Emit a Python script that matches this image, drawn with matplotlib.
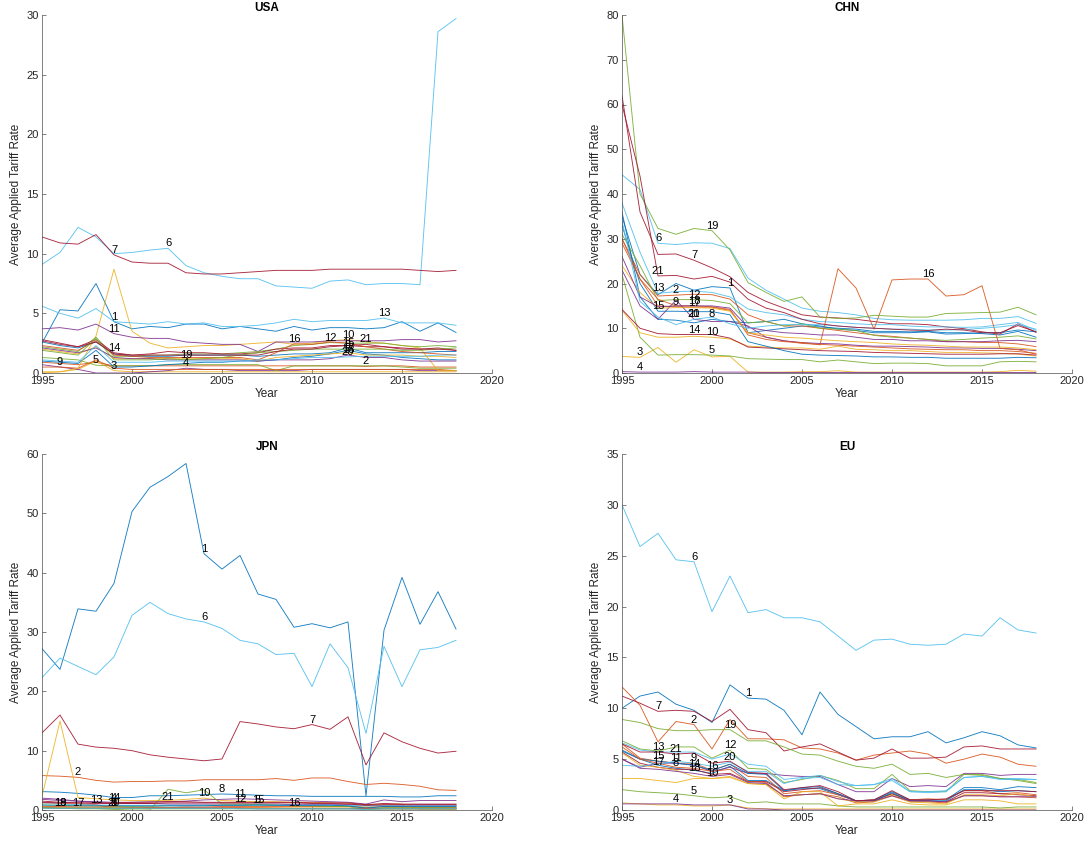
import matplotlib
matplotlib.use("Agg")
import matplotlib.pyplot as plt

plt.rcParams['font.family'] = ['Liberation Sans', 'DejaVu Sans']

years = list(range(1995, 2019))
panel_titles = ["USA", "CHN", "JPN", "EU"]
y_limits = {"USA": 30, "CHN": 80, "JPN": 60, "EU": 35}
y_steps = {"USA": 5, "CHN": 10, "JPN": 10, "EU": 5}
x_ticks = [1995, 2000, 2005, 2010, 2015, 2020]

usa_series = [
    [2.5,5.3,5.2,7.5,4.3,3.7,3.9,3.8,4.1,4.1,3.7,3.9,3.7,3.5,3.9,3.6,3.8,3.8,3.7,3.8,4.3,3.5,4.2,3.4],
    [0.9,0.8,0.7,0.9,0.6,0.6,0.6,0.6,0.6,0.6,0.6,0.6,0.6,0.6,0.6,0.6,0.6,0.6,0.55,0.6,0.6,0.5,0.5,0.5],
    [0.1,0.1,0.3,1.0,0.2,0.1,0.1,0.1,0.1,0.1,0.1,0.1,0.1,0.1,0.1,0.1,0.1,0.1,0.1,0.1,0.1,0.1,0.1,0.1],
    [0.7,0.5,0.3,0.0,0.0,0.0,0.1,0.2,0.4,0.3,0.3,0.2,0.2,0.2,0.2,0.3,0.3,0.3,0.3,0.3,0.3,0.2,0.2,0.2],
    [1.3,1.2,1.1,0.65,0.6,0.6,0.6,0.7,0.7,0.7,0.7,0.7,0.7,0.2,0.6,0.6,0.6,0.6,0.6,0.6,0.5,0.4,0.4,0.4],
    [9.1,10.1,12.2,11.4,10.0,10.1,10.3,10.45,9.0,8.4,8.1,7.9,7.9,7.3,7.2,7.1,7.7,7.8,7.4,7.5,7.5,7.4,28.6,29.7],
    [11.4,10.9,10.8,11.6,9.9,9.3,9.2,9.2,8.4,8.3,8.3,8.4,8.5,8.6,8.6,8.6,8.7,8.7,8.7,8.7,8.7,8.6,8.5,8.6],
    [1.0,0.9,0.8,1.9,0.5,0.5,0.6,0.7,0.8,0.9,0.9,1.0,1.0,1.1,1.3,1.4,1.6,1.9,1.6,1.5,1.3,1.2,1.1,1.1],
    [0.5,0.5,0.4,1.1,0.4,0.3,0.3,0.3,0.3,0.3,0.3,0.3,0.3,0.3,0.3,0.3,0.3,0.3,0.3,0.3,0.3,0.3,0.3,0.2],
    [0.0,0.1,0.4,3.1,8.7,3.5,2.5,2.1,2.2,2.3,2.3,2.4,2.5,2.6,2.4,2.5,2.7,2.8,2.6,2.5,2.3,2.1,0.2,0.2],
    [3.7,3.8,3.6,4.1,3.3,3.0,2.9,2.9,2.6,2.5,2.4,2.4,1.8,2.6,2.6,2.6,2.7,2.7,2.7,2.7,2.8,2.8,2.6,2.7],
    [2.2,2.0,1.8,3.0,1.4,1.4,1.5,1.5,1.6,1.6,1.6,1.7,1.8,2.0,2.3,2.4,2.55,2.5,2.5,2.5,2.3,2.2,2.3,2.2],
    [5.6,5.0,4.6,5.4,4.3,4.2,4.1,4.3,4.1,4.2,3.9,3.9,4.0,4.2,4.5,4.3,4.4,4.4,4.4,4.6,4.2,4.2,4.2,4.0],
    [2.8,2.5,2.2,2.8,1.7,1.5,1.6,1.8,1.7,1.7,1.6,1.6,1.7,2.0,2.1,2.1,2.3,2.3,2.2,2.2,2.0,2.0,2.1,1.9],
    [2.6,2.3,2.1,2.6,1.6,1.4,1.4,1.4,1.5,1.5,1.5,1.5,1.4,1.5,1.6,1.6,1.7,2.1,1.7,1.7,1.7,1.7,1.8,1.8],
    [2.3,2.1,1.9,2.7,1.5,1.4,1.3,1.3,1.3,1.3,1.3,1.3,1.1,1.7,2.45,2.4,2.6,2.5,2.2,2.0,1.8,1.7,1.6,1.5],
    [2.0,1.8,1.6,2.2,1.2,1.2,1.2,1.2,1.2,1.2,1.2,1.2,1.0,1.3,1.4,1.5,1.6,1.7,1.5,1.5,1.5,1.4,1.4,1.3],
    [2.1,1.9,1.7,2.1,1.3,1.2,1.2,1.1,1.1,1.1,1.1,1.1,1.0,1.1,1.1,1.1,1.2,1.5,1.3,1.3,1.1,1.0,1.0,1.0],
    [1.9,1.7,1.5,2.9,1.1,1.1,1.1,1.2,1.1,1.2,1.3,1.5,1.7,1.8,1.9,2.0,2.0,2.0,2.0,2.0,1.9,1.9,2.0,2.1],
    [1.1,1.0,0.9,2.3,0.9,0.9,0.9,1.0,1.0,1.0,1.0,1.0,1.1,1.1,1.2,1.3,1.3,1.35,1.4,1.4,1.4,1.4,1.5,1.5],
    [2.7,2.4,2.2,2.6,1.6,1.5,1.5,1.5,1.5,1.5,1.5,1.5,1.5,1.8,2.0,2.0,2.2,2.3,2.4,2.2,2.1,2.0,2.0,1.9],
]
usa_label_years = [1999,2013,1999,2003,1998,2002,1999,2012,1996,2012,1999,2011,2014,1999,2012,2009,2012,2012,2003,2012,2013]

chn_series = [
    [35.0,22.0,17.5,20.0,18.5,19.3,19.0,9.0,9.5,10.0,10.5,10.3,10.0,9.8,9.3,9.3,9.2,9.3,9.0,9.0,8.8,8.5,9.3,8.0],
    [30.0,22.0,17.2,17.4,17.6,17.5,16.5,13.0,11.5,10.5,10.5,10.0,9.5,9.0,8.5,8.2,7.8,7.5,7.0,7.0,6.8,6.8,6.5,5.9],
    [3.7,3.5,5.7,2.4,5.2,3.6,3.7,0.2,0.2,0.2,0.3,0.3,0.5,0.2,0.2,0.2,0.2,0.2,0.2,0.2,0.2,0.3,0.6,0.4],
    [0.3,0.2,0.2,0.2,0.3,0.2,0.2,0.2,0.1,0.1,0.1,0.1,0.1,0.1,0.1,0.1,0.1,0.1,0.1,0.1,0.1,0.1,0.1,0.1],
    [22.0,8.0,4.0,4.1,4.1,4.0,3.8,3.2,3.1,3.0,3.0,2.5,2.9,2.5,2.1,2.2,2.2,2.1,1.6,1.6,1.6,2.5,2.6,2.5],
    [44.3,41.0,29.0,28.7,29.1,29.0,27.8,21.2,18.5,16.5,14.5,13.8,13.5,13.0,12.2,11.9,11.8,11.8,11.8,11.9,12.2,12.2,12.6,11.1],
    [62.0,36.0,26.5,26.6,25.2,23.5,21.5,18.0,16.0,14.5,13.0,12.5,12.3,12.0,11.5,11.0,11.0,10.8,10.3,9.9,9.2,8.7,11.0,9.1],
    [36.0,17.0,12.0,11.8,11.2,12.0,11.5,11.2,11.5,12.0,11.0,10.5,9.8,9.5,9.0,9.0,9.0,9.2,8.7,8.8,9.0,9.0,9.6,9.2],
    [29.0,21.0,15.0,14.8,14.7,14.7,14.0,9.0,8.0,7.2,6.6,6.4,6.2,6.0,5.8,5.6,5.4,5.3,5.2,5.2,5.0,5.0,4.8,4.4],
    [14.0,9.0,8.0,8.0,8.2,8.0,7.6,6.0,5.8,5.6,5.6,5.3,6.0,5.3,5.2,5.0,5.0,4.8,4.6,4.6,4.5,4.4,4.2,3.8],
    [23.0,15.0,12.0,16.3,12.0,11.5,11.5,10.5,8.0,7.2,6.8,6.6,6.5,6.2,6.0,6.0,5.9,5.8,5.6,5.6,5.5,5.5,5.3,5.0],
    [31.0,24.0,16.2,16.4,16.4,16.2,15.5,11.2,11.5,10.5,11.0,10.0,9.8,9.5,8.4,8.0,7.8,7.5,7.3,7.5,7.8,8.0,8.3,7.6],
    [38.0,27.0,17.8,18.2,18.3,18.0,17.0,14.3,13.5,13.0,12.0,11.5,11.3,11.0,10.8,10.8,10.5,10.3,10.3,10.2,10.3,10.8,11.3,9.5],
    [14.2,10.0,8.8,8.6,8.6,8.6,7.8,5.8,5.6,5.4,5.2,5.0,4.9,4.8,4.6,4.5,4.4,4.3,4.2,4.2,4.2,4.3,4.3,4.0],
    [33.0,20.0,13.8,13.8,13.7,13.7,13.0,7.0,6.0,5.0,4.2,4.0,3.9,3.8,3.6,3.6,3.5,3.5,3.3,3.3,3.3,3.3,3.5,3.4],
    [30.0,21.0,16.5,15.0,15.0,14.8,14.2,8.5,7.5,7.0,6.8,6.3,23.3,19.0,9.8,20.8,21.0,21.0,17.2,17.5,19.5,5.5,5.2,4.2],
    [24.0,18.0,14.5,14.6,14.6,14.5,13.8,9.0,8.5,8.0,7.8,7.5,7.2,7.0,6.8,6.5,6.3,6.2,6.0,5.8,5.8,5.8,5.6,5.2],
    [26.0,17.0,14.8,15.0,15.0,15.0,14.5,10.2,9.5,9.0,8.8,8.5,8.5,8.0,7.5,7.5,7.2,7.2,7.0,7.0,7.0,7.2,7.3,7.0],
    [80.0,40.0,32.3,31.0,32.3,31.8,27.5,20.2,18.0,16.0,17.0,12.5,12.2,12.3,12.9,12.7,12.5,12.5,13.3,13.4,13.5,13.6,14.7,13.0],
    [34.0,16.0,12.5,10.8,12.0,12.5,11.0,10.0,10.5,10.8,10.8,10.8,10.5,10.2,10.0,9.8,9.8,9.6,9.6,9.7,10.0,10.3,10.8,9.8],
    [60.0,44.0,21.7,21.8,21.0,21.6,20.3,16.5,14.5,13.5,12.0,11.0,10.5,10.2,10.0,9.8,9.6,9.5,9.8,9.6,9.0,9.0,10.6,9.2],
]
chn_label_years = [2001,1998,1996,1996,2000,1997,1999,2000,1998,2000,1999,1999,1997,1999,1997,2012,1999,1999,2000,1999,1997]

jpn_series = [
    [27.2,23.7,33.9,33.5,38.2,50.3,54.4,56.2,58.4,43.2,40.6,42.9,36.4,35.5,30.8,31.4,30.7,31.7,2.4,30.3,39.2,31.3,36.8,30.5],
    [5.8,5.7,5.5,5.0,4.7,4.8,4.8,4.9,4.9,5.1,5.1,5.1,5.1,5.3,5.0,5.4,5.4,4.8,4.3,4.5,4.3,4.0,3.4,3.3],
    [0.5,0.4,0.4,0.3,0.3,0.3,0.3,0.3,0.3,0.3,0.3,0.3,0.3,0.3,0.3,0.3,0.3,0.3,0.2,0.2,0.2,0.2,0.2,0.2],
    [2.0,1.8,1.5,1.3,1.1,1.1,1.1,1.0,1.0,1.0,1.0,1.0,1.0,1.0,0.9,0.9,0.9,0.9,0.8,0.8,0.8,0.8,0.8,0.8],
    [0.9,0.8,0.7,0.7,0.6,0.6,0.6,0.7,0.7,0.8,0.8,0.8,0.85,0.8,0.7,0.7,0.6,0.6,0.5,0.5,0.5,0.5,0.5,0.5],
    [22.3,25.6,24.2,22.8,25.8,32.8,35.0,33.1,32.2,31.7,30.6,28.6,28.0,26.2,26.4,20.8,28.0,24.0,12.9,27.6,20.8,27.0,27.4,28.6],
    [13.0,16.0,11.1,10.6,10.4,10.0,9.3,8.9,8.6,8.3,8.6,14.9,14.5,14.0,13.7,14.4,13.6,15.7,7.6,13.0,11.5,10.4,9.6,9.9],
    [3.1,3.0,2.8,2.5,2.1,2.1,2.4,2.4,2.5,2.6,2.7,2.6,2.5,2.4,2.4,2.3,2.3,2.3,2.3,2.3,2.2,2.2,2.4,2.4],
    [1.2,1.1,1.0,0.9,0.3,0.3,0.4,0.4,0.5,0.5,0.6,0.6,0.6,0.6,0.6,0.6,0.6,0.6,0.4,0.6,0.6,0.5,0.5,0.5],
    [2.3,15.0,2.1,1.9,1.7,1.6,1.6,1.6,1.8,2.0,1.6,1.5,1.4,1.4,1.3,1.3,1.2,1.1,0.9,1.0,1.0,0.1,0.1,0.1],
    [1.8,1.6,1.5,1.4,1.3,1.3,1.4,1.4,1.5,1.7,1.8,1.9,1.8,1.7,1.6,1.5,1.4,1.3,1.0,1.7,1.4,1.6,1.6,1.6],
    [0.3,0.3,0.2,0.2,0.1,0.0,0.0,3.5,2.9,3.4,1.0,1.0,0.9,0.8,0.7,0.7,0.6,0.6,0.0,0.4,0.4,0.4,0.4,0.4],
    [1.0,1.0,0.9,0.85,0.8,0.8,0.8,0.8,0.8,0.8,0.8,0.8,0.8,0.8,0.8,0.8,0.8,0.8,0.7,0.7,0.7,0.7,0.7,0.7],
    [1.5,1.3,1.2,1.1,1.1,1.1,1.1,1.2,1.2,1.2,1.2,1.2,1.2,1.2,1.2,1.1,1.1,1.0,0.8,0.9,0.9,0.9,0.9,0.9],
    [0.7,0.7,0.7,0.7,0.7,0.7,0.7,0.7,0.7,0.7,0.8,0.8,0.85,0.8,0.8,0.8,0.8,0.7,0.3,0.6,0.6,0.6,0.6,0.6],
    [0.6,0.6,0.5,0.5,0.5,0.4,0.4,0.4,0.4,0.4,0.4,0.4,0.4,0.35,0.3,0.3,0.3,0.3,0.2,0.3,0.3,0.3,0.3,0.3],
    [0.5,0.4,0.4,0.4,0.4,0.3,0.3,0.3,0.3,0.3,0.3,0.3,0.3,0.3,0.3,0.3,0.3,0.3,0.2,0.2,0.2,0.2,0.2,0.2],
    [0.4,0.3,0.3,0.3,0.3,0.3,0.3,0.3,0.3,0.3,0.3,0.3,0.2,0.2,0.2,0.2,0.2,0.2,0.2,0.2,0.2,0.2,0.2,0.2],
    [0.4,0.3,0.3,0.3,0.3,0.3,0.2,0.2,0.2,0.2,0.2,0.2,0.2,0.2,0.2,0.2,0.2,0.2,0.1,0.2,0.2,0.2,0.2,0.2],
    [0.3,0.3,0.3,0.3,0.3,0.3,0.3,0.3,0.3,0.3,0.3,0.2,0.2,0.2,0.2,0.2,0.2,0.2,0.1,0.2,0.2,0.2,0.2,0.2],
    [1.3,1.2,1.2,1.2,1.2,1.3,1.3,1.4,1.4,1.3,1.3,1.3,1.3,1.3,1.3,1.2,1.2,1.2,0.9,1.1,1.0,1.0,1.0,1.0],
]
jpn_label_years = [2004,1997,1999,1999,2007,2004,2010,2005,1999,2004,2006,2006,1998,1999,2007,2009,1997,1996,1996,1999,2002]

eu_series = [
    [10.0,11.2,11.6,10.4,9.8,8.6,12.3,11.0,10.9,9.8,7.4,11.6,9.4,8.2,7.0,7.2,7.2,7.7,6.6,7.1,7.7,7.3,6.4,6.1],
    [12.1,10.3,6.7,8.7,8.4,6.0,8.9,7.0,7.0,6.9,6.1,6.0,5.6,4.9,5.4,5.6,5.8,5.5,4.6,5.0,5.5,5.2,4.5,4.3],
    [0.7,0.6,0.5,0.5,0.4,0.4,0.5,0.2,0.1,0.1,0.1,0.1,0.1,0.1,0.1,0.1,0.1,0.1,0.1,0.1,0.1,0.1,0.1,0.1],
    [0.6,0.6,0.6,0.6,0.5,0.5,0.5,0.1,0.1,0.0,0.0,0.0,0.0,0.0,0.0,0.0,0.0,0.0,0.0,0.0,0.0,0.0,0.0,0.0],
    [2.0,1.8,1.7,1.6,1.4,1.2,1.3,0.7,0.8,0.6,0.6,0.6,0.4,0.3,0.3,0.3,0.3,0.3,0.3,0.3,0.3,0.2,0.3,0.3],
    [30.0,25.9,27.2,24.6,24.4,19.5,23.0,19.4,19.7,18.9,18.9,18.5,17.1,15.7,16.7,16.8,16.3,16.2,16.3,17.3,17.1,18.9,17.7,17.4],
    [11.2,10.5,9.7,9.8,9.7,8.7,9.9,7.9,7.6,5.8,6.2,6.5,5.7,4.9,5.1,6.0,5.1,5.1,5.2,6.2,6.3,6.0,6.0,6.0],
    [5.8,5.0,4.4,4.1,3.9,3.6,4.3,2.9,2.9,1.9,2.1,2.1,1.5,0.9,1.0,1.8,1.0,1.0,1.0,2.2,2.2,2.0,2.3,2.2],
    [6.5,5.1,4.8,4.6,4.6,3.9,4.5,3.3,3.2,1.6,1.8,1.9,1.5,0.9,1.0,1.6,1.0,1.1,1.0,1.9,1.9,1.6,1.7,1.5],
    [3.1,3.1,2.9,2.7,3.1,3.1,3.2,2.6,2.5,1.1,1.8,1.8,0.4,0.6,0.6,1.0,0.6,0.5,0.5,1.0,1.0,0.9,0.6,0.6],
    [5.0,4.2,4.6,4.6,4.4,3.8,4.2,3.6,3.6,3.4,3.3,3.3,2.5,1.8,1.8,3.1,2.3,2.4,2.3,3.6,3.6,3.4,3.5,3.5],
    [6.8,6.0,5.8,6.2,6.2,5.1,5.9,4.1,4.0,2.7,3.0,3.4,2.9,2.1,2.1,3.5,1.9,1.8,1.8,3.5,3.4,3.1,3.0,2.7],
    [6.6,5.9,5.7,5.7,5.7,5.0,5.5,4.5,4.3,3.0,3.2,3.4,2.8,2.4,2.5,3.1,1.8,1.8,1.9,3.2,3.3,3.1,3.1,3.0],
    [5.7,4.6,4.2,4.0,4.0,3.5,3.6,2.8,2.8,1.8,2.0,2.2,1.6,0.9,0.9,1.6,0.9,0.9,0.8,1.7,1.7,1.6,1.5,1.4],
    [5.9,5.0,4.8,4.6,4.4,3.9,4.5,3.6,3.5,1.9,2.2,2.3,1.6,0.9,0.9,1.7,0.9,0.9,0.9,2.0,2.0,1.8,1.9,1.8],
    [6.2,5.0,4.6,4.2,4.1,3.8,4.0,2.8,2.7,1.3,1.5,1.6,1.3,0.7,0.8,1.4,0.8,0.8,0.7,1.4,1.4,1.3,1.3,1.2],
    [5.6,4.4,4.2,3.9,3.3,3.1,3.3,2.6,2.5,1.4,1.5,1.6,1.1,0.8,0.8,1.5,0.8,0.7,0.6,1.5,1.5,1.4,1.6,1.3],
    [5.0,4.1,4.0,3.8,3.6,3.3,3.5,2.7,2.6,1.4,1.5,1.6,1.1,0.9,0.9,1.4,0.9,0.9,0.8,1.4,1.4,1.3,1.3,1.3],
    [8.9,8.6,8.0,7.8,7.8,7.9,7.9,6.8,6.8,6.2,5.5,5.4,4.8,4.3,4.1,4.5,3.5,3.6,3.2,3.5,3.5,3.1,2.9,2.6],
    [4.4,4.3,4.5,4.8,4.6,4.3,4.7,3.8,3.8,2.6,3.1,3.2,2.5,2.4,2.5,2.9,1.8,1.7,1.8,3.2,3.3,3.0,3.0,3.0],
    [6.5,5.7,5.7,5.5,5.6,4.6,4.8,3.7,3.6,2.0,2.2,2.4,1.8,0.9,1.0,1.9,1.0,1.0,1.1,1.9,1.9,1.9,1.9,1.8],
]
eu_label_years = [2002,1999,2001,1998,1999,1999,1997,1998,1999,2000,1998,2001,1997,1999,1997,2000,1997,1999,2001,2001,1998]

panel_series = {"USA": usa_series, "CHN": chn_series, "JPN": jpn_series, "EU": eu_series}
panel_labels = {"USA": usa_label_years, "CHN": chn_label_years, "JPN": jpn_label_years, "EU": eu_label_years}

colors = ['#0072BD', '#D95319', '#EDB120', '#7E2F8E', '#77AC30', '#4DBEEE', '#A2142F']

fig = plt.figure(figsize=(10.91, 8.44), dpi=100)
W, H = 1091, 844
boxes = {
    "USA": (42, 15, 450, 358),
    "CHN": (622, 15, 450, 358),
    "JPN": (42, 454, 450, 356),
    "EU": (622, 454, 450, 356),
}
axis_color = '#262626'

for name in panel_titles:
    x0, y0, w, h = boxes[name]
    ax = fig.add_axes([x0 / W, 1 - (y0 + h) / H, w / W, h / H])
    for i, vals in enumerate(panel_series[name]):
        c = colors[i % 7]
        ax.plot(years, vals, color=c, lw=0.65, alpha=0.9)
        ly = panel_labels[name][i]
        ax.text(ly, vals[years.index(ly)], str(i + 1), ha='center', va='bottom',
                fontsize=8, color='black')
    ax.set_xlim(1995, 2020)
    ax.set_ylim(0, y_limits[name])
    ax.set_xticks(x_ticks)
    ax.set_yticks(list(range(0, y_limits[name] + 1, y_steps[name])))
    ax.spines['top'].set_visible(False)
    ax.spines['right'].set_visible(False)
    for s in ('left', 'bottom'):
        ax.spines[s].set_color('#4d4d4d')
        ax.spines[s].set_linewidth(0.5)
    ax.tick_params(direction='in', length=3, width=0.5, colors='#4d4d4d',
                   labelcolor=axis_color, labelsize=8, pad=2.5)
    ax.set_title(name, fontsize=8.5, fontweight='bold', pad=3, color='black')
    ax.set_xlabel('Year', fontsize=8.5, color=axis_color, labelpad=1)
    ax.set_ylabel('Average Applied Tariff Rate', fontsize=8.5, color=axis_color, labelpad=3)

fig.savefig('out.png', dpi=100)
